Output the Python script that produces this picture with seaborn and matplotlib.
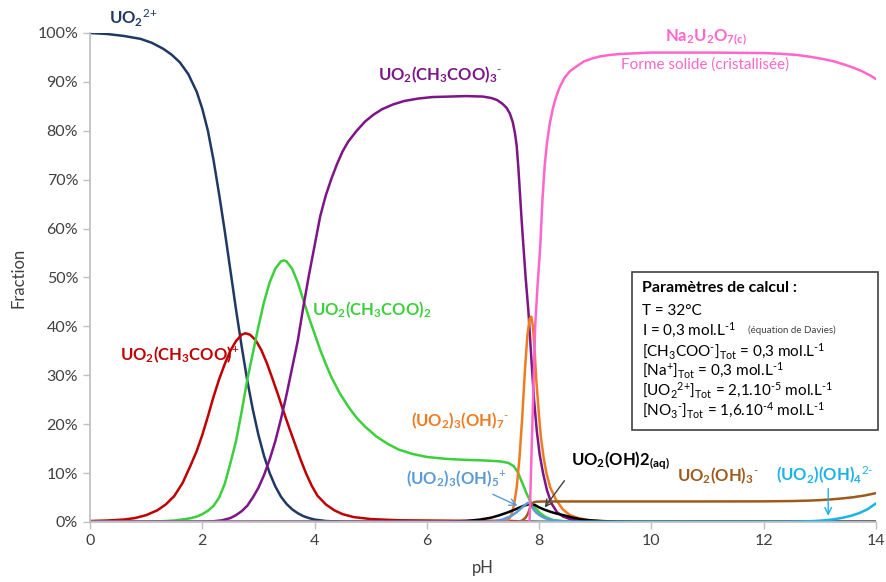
import matplotlib
matplotlib.use("Agg")
import matplotlib.pyplot as plt
import seaborn as sns
from matplotlib.ticker import PercentFormatter
from matplotlib.patches import Rectangle

# fractions (%), each species with its own pH points
ph_uo2 = [0, 0.3, 0.6, 0.9, 1.1, 1.3, 1.45, 1.6, 1.75, 1.9, 2.0, 2.1, 2.2, 2.3, 2.4, 2.5, 2.6, 2.7, 2.8, 2.9,
          3.0, 3.1, 3.2, 3.3, 3.4, 3.5, 3.6, 3.7, 3.8, 3.9, 4.0, 4.2, 4.5, 5.0, 14]
uo2 = [100, 99.8, 99.4, 98.8, 98.0, 96.8, 95.6, 94.0, 91.6, 88.0, 84.5, 80, 74, 67, 59.5, 51.5, 43.5, 36, 29, 23,
       17.8, 13.5, 10, 7.3, 5.2, 3.7, 2.6, 1.8, 1.2, 0.8, 0.5, 0.2, 0.05, 0, 0]

ph_ac1 = [0, 0.3, 0.6, 0.8, 1.0, 1.2, 1.35, 1.5, 1.65, 1.8, 1.9, 2.0, 2.1, 2.2, 2.3, 2.4, 2.5, 2.6, 2.7, 2.77,
          2.85, 2.95, 3.05, 3.15, 3.25, 3.35, 3.45, 3.55, 3.65, 3.75, 3.85, 3.95, 4.05, 4.2, 4.35, 4.5, 4.7,
          5.0, 5.5, 6.5, 7.5, 8.0, 14]
ac1 = [0.2, 0.3, 0.5, 0.8, 1.4, 2.4, 3.6, 5.3, 8, 11.8, 14.5, 17.8, 21.6, 25.6, 29.2, 32.3, 35, 37, 38.3, 38.6,
       38.3, 37.2, 35.2, 32.5, 29.3, 26, 22.5, 19.2, 16.0, 12.8, 9.9, 7.4, 5.4, 3.6, 2.4, 1.6, 1.0,
       0.6, 0.35, 0.25, 0.2, 0, 0]

ph_ac2 = [0, 1.2, 1.5, 1.7, 1.8, 1.9, 2.0, 2.1, 2.2, 2.3, 2.4, 2.5, 2.6, 2.7, 2.8, 2.9, 3.0, 3.1, 3.2, 3.3,
          3.4, 3.45, 3.5, 3.6, 3.7, 3.8, 3.9, 4.0, 4.1, 4.2, 4.3, 4.45, 4.6, 4.75, 4.9, 5.1, 5.3, 5.5, 5.75,
          6.0, 6.35, 6.7, 7.0, 7.3, 7.45, 7.55, 7.62, 7.7, 7.77, 7.84, 7.92, 8.02, 8.12, 8.25, 8.45, 8.7, 14]
ac2 = [0, 0.1, 0.3, 0.6, 0.8, 1.1, 1.6, 2.3, 3.3, 5, 7.8, 12, 16.5, 22.5, 29, 34.5, 40, 45, 49, 51.8,
       53.3, 53.5, 53.3, 51.8, 49, 45.4, 41.8, 38.5, 35.2, 32.3, 29.6, 26.3, 23.6, 21.3, 19.5, 17.5, 16, 14.8, 13.9,
       13.3, 12.9, 12.7, 12.6, 12.4, 12.1, 11.4, 10.2, 8, 6, 4.3, 3, 1.8, 1.0, 0.4, 0.15, 0.05, 0]

ph_ac3 = [0, 2.0, 2.2, 2.35, 2.5, 2.6, 2.7, 2.8, 2.9, 3.0, 3.1, 3.2, 3.3, 3.4, 3.5, 3.6, 3.7, 3.8, 3.9, 4.0,
          4.1, 4.2, 4.3, 4.4, 4.5, 4.6, 4.75, 4.9, 5.05, 5.2, 5.4, 5.6, 5.85, 6.1, 6.4, 6.7, 7.0, 7.15, 7.25,
          7.35, 7.42, 7.48, 7.53, 7.57, 7.6, 7.63, 7.66, 7.69, 7.72, 7.76, 7.81, 7.84, 7.87, 7.91, 7.96, 8.01,
          8.07, 8.14, 8.22, 8.32, 8.43, 8.55, 8.67, 8.85, 9.1, 14]
ac3 = [0, 0.05, 0.15, 0.35, 0.8, 1.4, 2.2, 3.3, 5, 7, 9.6, 12.8, 16.5, 21, 26, 31.5, 37, 44, 50.5, 56.5,
       62.5, 66.8, 70.2, 73.2, 75.8, 77.8, 80, 81.9, 83.3, 84.4, 85.4, 86.1, 86.6, 86.9, 87.0, 87.1, 87.0, 86.7, 86.3,
       85.5, 84.7, 83.5, 81.8, 79.5, 77, 72.5, 67, 61.5, 56.5, 50, 43, 37.5, 32, 25, 18.5, 13.8,
       10, 6.5, 3.8, 2.0, 1.1, 0.6, 0.3, 0.1, 0, 0]

ph_oh7 = [0, 7.35, 7.45, 7.5, 7.55, 7.6, 7.65, 7.7, 7.75, 7.79, 7.83, 7.86, 7.89, 7.92, 7.95, 7.99, 8.03, 8.08,
          8.13, 8.2, 8.3, 8.42, 8.55, 8.7, 8.9, 9.2, 9.5, 14]
oh7 = [0, 0, 0.4, 1.3, 3.3, 7, 13, 21.5, 31.5, 38, 41.5, 42, 40, 35, 29, 23, 17.5, 13.2,
       10, 7, 4.6, 2.6, 1.4, 0.8, 0.35, 0.1, 0, 0]

ph_oh5 = [0, 7.0, 7.2, 7.35, 7.5, 7.6, 7.68, 7.75, 7.8, 7.84, 7.87, 7.9, 7.95, 8.02, 8.1, 8.2, 8.35, 8.5, 14]
oh5 = [0, 0, 0.15, 0.5, 1.2, 2.0, 2.8, 3.5, 3.9, 3.9, 3.3, 2.6, 1.9, 1.3, 0.8, 0.45, 0.2, 0.05, 0]

ph_oh2 = [0, 6.3, 6.7, 6.95, 7.15, 7.3, 7.45, 7.6, 7.72, 7.84, 7.92, 8.0, 8.1, 8.2, 8.3, 8.43, 8.6, 8.75, 8.9,
          9.1, 9.4, 9.8, 14]
oh2 = [0, 0.05, 0.2, 0.5, 0.9, 1.4, 2.0, 2.7, 3.3, 3.7, 3.5, 3.0, 2.5, 2.1, 1.75, 1.4, 0.9, 0.55, 0.35,
       0.2, 0.08, 0.02, 0]

ph_oh3 = [0, 7.6, 7.7, 7.76, 7.8, 7.83, 7.86, 7.9, 7.95, 8.1, 9, 10, 11, 12, 12.5, 12.8, 13.0, 13.2, 13.4,
          13.6, 13.8, 14]
oh3 = [0, 0, 0.3, 0.9, 1.7, 2.6, 3.5, 4.0, 4.15, 4.2, 4.2, 4.2, 4.2, 4.22, 4.28, 4.37, 4.47, 4.62, 4.82,
       5.07, 5.42, 5.9]

ph_oh4 = [0, 12.0, 12.4, 12.7, 12.9, 13.1, 13.25, 13.4, 13.55, 13.7, 13.85, 14]
oh4 = [0, 0, 0.03, 0.1, 0.2, 0.35, 0.55, 0.85, 1.25, 1.8, 2.6, 3.8]

ph_na = [0, 7.83, 7.86, 7.9, 7.93, 7.97, 8.02, 8.06, 8.1, 8.14, 8.19, 8.25, 8.31, 8.37, 8.45, 8.55, 8.67, 8.8,
         8.95, 9.08, 9.25, 9.44, 10, 11, 12, 12.3, 12.6, 12.85, 13.05, 13.25, 13.45, 13.6, 13.75, 13.9, 14]
na = [0, 0, 12, 28, 40, 48, 56.3, 66, 73, 77.5, 81.5, 84.8, 87.2, 89, 90.8, 92.2, 93.2, 94.2,
      94.8, 95.2, 95.5, 95.7, 96, 96, 95.9, 95.75, 95.5, 95.1, 94.7, 94.2, 93.5, 92.9, 92.2, 91.3, 90.6]

params = [
    r"T = 32°C",
    r"I = 0,3 mol.L$^{\text{-1}}$",
    r"[CH$_3$COO$^{\text{-}}$]$_{Tot}$ = 0,3 mol.L$^{\text{-1}}$",
    r"[Na$^{\text{+}}$]$_{Tot}$ = 0,3 mol.L$^{\text{-1}}$",
    r"[UO$_2$$^{\text{2+}}$]$_{Tot}$ = 2,1.10$^{\text{-5}}$ mol.L$^{\text{-1}}$",
    r"[NO$_3$$^{\text{-}}$]$_{Tot}$ = 1,6.10$^{\text{-4}}$ mol.L$^{\text{-1}}$",
]

sns.set_theme(style="ticks")
plt.rcParams['font.family'] = ['Lato', 'DejaVu Sans']
plt.rcParams['mathtext.fontset'] = 'custom'
plt.rcParams['mathtext.rm'] = 'Lato'
plt.rcParams['mathtext.bf'] = 'Lato:bold'
plt.rcParams['mathtext.default'] = 'regular'

fig = plt.figure(figsize=(8.87, 5.82), dpi=100)
ax = fig.add_axes([0.1015, 0.1031, 0.886, 0.8402])

series = [
    (ph_uo2, uo2, '#1f3864'),
    (ph_ac1, ac1, '#c00000'),
    (ph_ac2, ac2, '#3ccf3c'),
    (ph_ac3, ac3, '#7d1487'),
    (ph_oh7, oh7, '#ee7b22'),
    (ph_oh2, oh2, '#000000'),
    (ph_oh5, oh5, '#5b9bd5'),
    (ph_oh3, oh3, '#9e5a1e'),
    (ph_oh4, oh4, '#1ab2ea'),
    (ph_na, na, '#ff66cc'),
]
for xs, ys, c in series:
    sns.lineplot(x=xs, y=ys, color=c, linewidth=1.8, ax=ax, sort=False)

ax.set_xlim(0, 14)
ax.set_ylim(0, 100)
ax.set_xticks(range(0, 15, 2))
ax.set_yticks(range(0, 101, 10))
ax.yaxis.set_major_formatter(PercentFormatter(decimals=0))
for s in ['top', 'right']:
    ax.spines[s].set_visible(False)
for s in ['left', 'bottom']:
    ax.spines[s].set_color('#bfbfbf')
ax.tick_params(colors='#bfbfbf', labelcolor='#404040', labelsize=11.5, length=5, width=1)
ax.set_xlabel('pH', fontsize=12, color='#404040', labelpad=9)
ax.set_ylabel('Fraction', fontsize=12, color='#404040', labelpad=8)

lab = dict(fontsize=12, fontweight='bold', ha='center', va='center', clip_on=False)
ax.text(0.77, 103.1, r"UO$_2$$^{\text{2+}}$", color='#1f3864', **lab)
ax.text(6.23, 91.4, r"UO$_2$(CH$_3$COO)$_3$$^{\text{-}}$", color='#7d1487', **lab)
ax.text(10.97, 99, r"Na$_2$U$_2$O$_{7(c)}$", color='#ff66cc', **lab)
ax.text(10.95, 93.5, "Forme solide (cristallisée)", color='#ff66cc', fontsize=11, ha='center', va='center')
ax.text(5.02, 43.4, r"UO$_2$(CH$_3$COO)$_2$", color='#3ccf3c', **lab)
ax.text(1.6, 34.2, r"UO$_2$(CH$_3$COO)$^{\text{+}}$", color='#c00000', **lab)
ax.text(6.59, 20.8, r"(UO$_2$)$_3$(OH)$_7$$^{\text{-}}$", color='#ee7b22', **lab)
ax.text(6.52, 8.9, r"(UO$_2$)$_3$(OH)$_5$$^{\text{+}}$", color='#5b9bd5', **lab)
ax.text(9.44, 12.5, r"UO$_2$(OH)2$_{(aq)}$", color='#000000', **lab)
ax.text(11.19, 9.4, r"UO$_2$(OH)$_3$$^{\text{-}}$", color='#9e5a1e', **lab)
ax.text(13.09, 9.8, r"(UO$_2$)(OH)$_4$$^{\text{2-}}$", color='#1ab2ea', **lab)

ax.annotate("", xy=(7.66, 3.1), xytext=(7.13, 5.9),
            arrowprops=dict(arrowstyle='->', color='#5b9bd5', lw=1))
ax.annotate("", xy=(8.07, 2.5), xytext=(8.48, 8.9),
            arrowprops=dict(arrowstyle='->', color='#404040', lw=1))
ax.annotate("", xy=(13.15, 0.7), xytext=(13.15, 7.4),
            arrowprops=dict(arrowstyle='->', color='#1ab2ea', lw=1))

box = Rectangle((0.69, 0.188), 0.3125, 0.323, transform=ax.transAxes, facecolor='white',
                edgecolor='#404040', linewidth=1.2, clip_on=False, zorder=5)
ax.add_patch(box)
ax.text(9.83, 47.9, "Paramètres de calcul :", fontsize=11.5, fontweight='bold', color='black',
        va='center', zorder=6)
for i, line in enumerate(params):
    ax.text(9.83, 43.2 - i * 4.08, line, fontsize=11, color='black', va='center', zorder=6)
ax.text(11.72, 39.2, "(équation de Davies)", fontsize=7, color='#404040', va='center', zorder=6)

fig.savefig('out.png', dpi=100)
